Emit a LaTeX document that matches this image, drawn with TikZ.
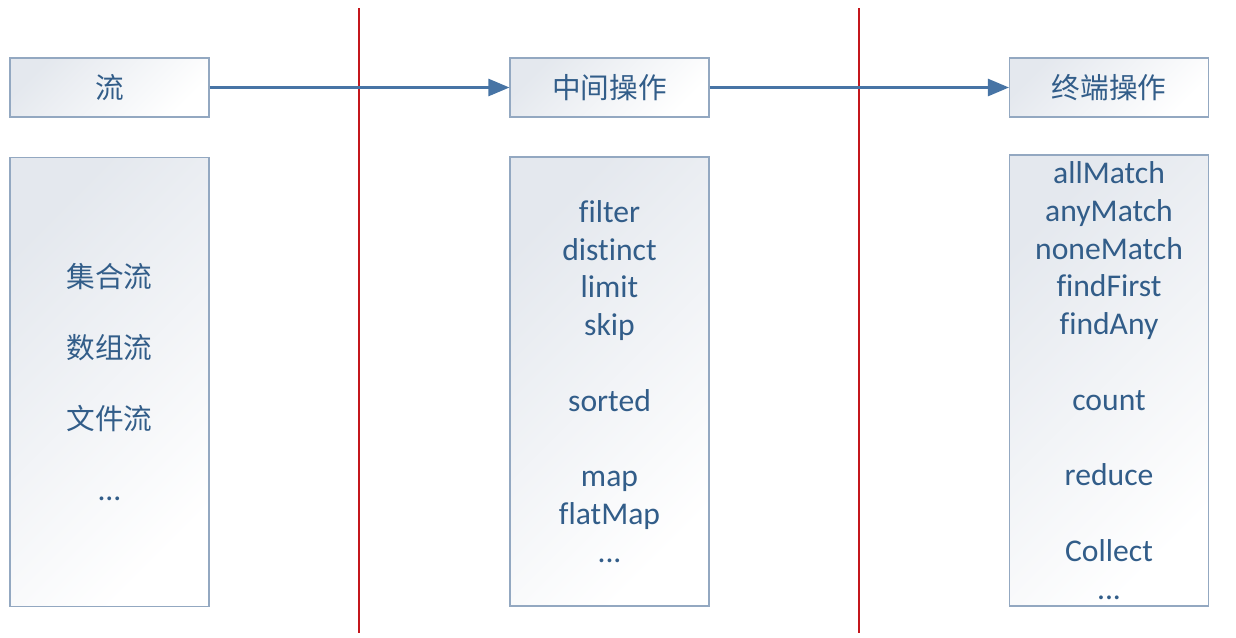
\documentclass[tikz,border=0pt]{standalone}
\usepackage{fontspec}
\setmainfont{Carlito}[Ligatures=NoCommon]
\newfontfamily\cjk{Noto Sans CJK SC}
\usetikzlibrary{arrows}
\definecolor{boxtext}{HTML}{325D89}
\definecolor{boxline}{HTML}{93A8C1}
\definecolor{boxfill}{HTML}{E4E8EE}
\definecolor{flowblue}{HTML}{4774A5}
\definecolor{sepred}{HTML}{C4161C}
\tikzset{
every node/.style={rectangle, draw=boxline, line width=0.8pt, top color=boxfill, bottom color=white, shading angle=45, text=boxtext, minimum width=3.98cm, align=center, font=\fontsize{18}{21.5}\selectfont},
headbox/.style={minimum height=1.18cm},
listbox/.style={minimum height=8.98cm},
flow/.style={draw=flowblue, line width=1.8pt},
sepline/.style={draw=sepred, line width=0.9pt}
}
\newcommand\zh[1]{{\cjk\fontsize{16.3}{21.5}\selectfont #1}}
\begin{document}
\begin{tikzpicture}[x=0.02cm, y=-0.02cm]
\useasboundingbox (0,0) rectangle (1236,637);
% red separators
\foreach \x in {359,859}
  \draw[sepline] (\x,8) -- (\x,633);

\node [headbox] (stream) at (109.5,87.5) {\zh{流}};
\node [headbox] (middle) at (609.5,87.5) {\zh{中间操作}};
\node [headbox] (terminal) at (1109,87.5) {\zh{终端操作}};

\node [listbox] (sources) at (109.5,382) {\zh{集合流}\\[0.66cm]\zh{数组流}\\[0.66cm]\zh{文件流}\\[0.66cm]...};
\node [listbox] (midops) at (609.5,381.5) {filter\\distinct\\limit\\skip\\ \\sorted\\ \\map\\flatMap\\...};
\node [listbox, minimum height=9.02cm] (termops) at (1109,380.5) {allMatch\\anyMatch\\noneMatch\\findFirst\\findAny\\ \\count\\ \\reduce\\ \\Collect\\...};

\draw[flow,-triangle 45] (stream.east) -- (middle.west);
\draw[flow,-triangle 45] (middle.east) -- (terminal.west);
\end{tikzpicture}
\end{document}
